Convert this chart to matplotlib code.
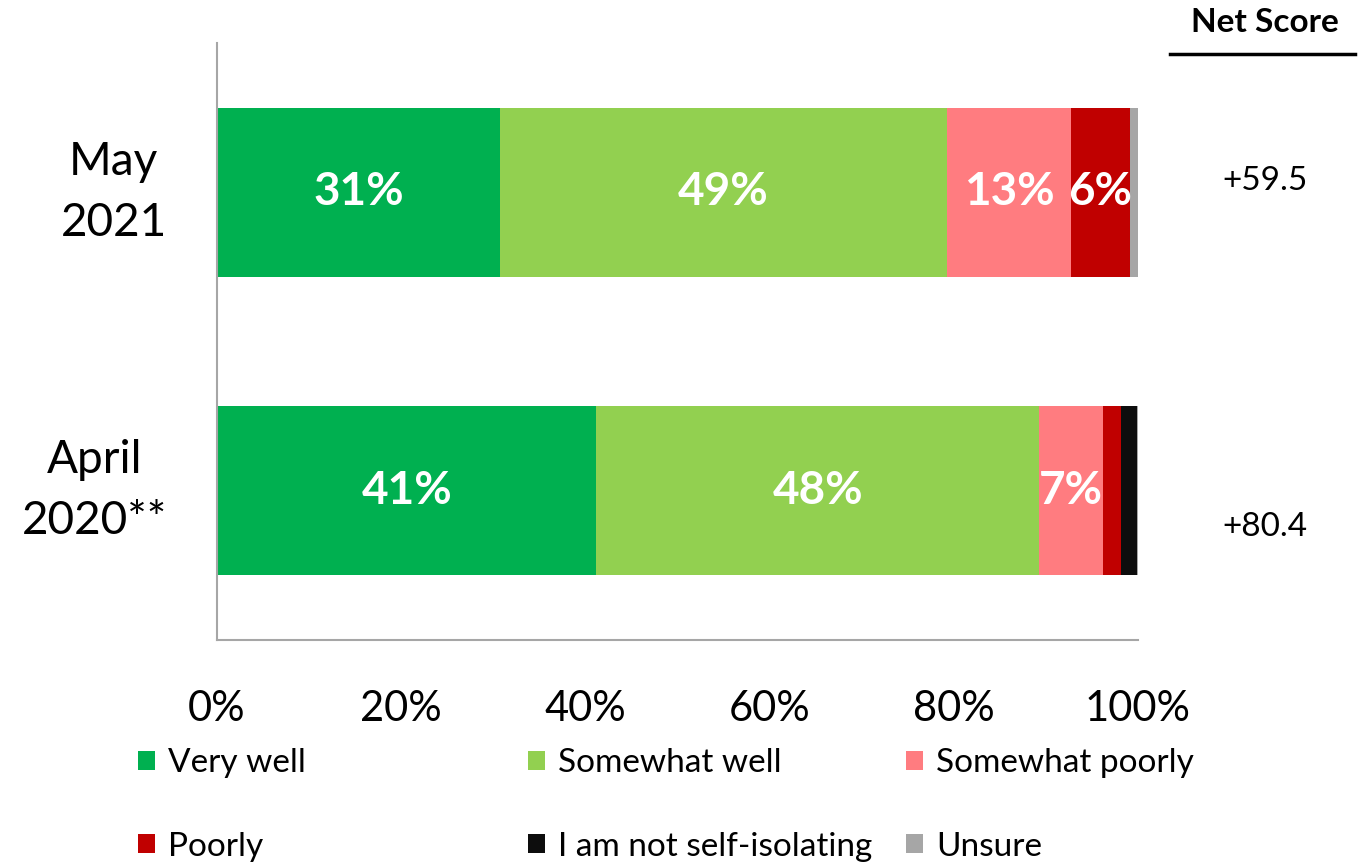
import numpy as np
import matplotlib
matplotlib.use('Agg')
import matplotlib.pyplot as plt
from matplotlib.lines import Line2D

plt.rcParams['font.family'] = ['Lato', 'DejaVu Sans']

# Data (percent of respondents)
periods = ['April\n2020**', 'May\n2021']
categories = ['Very well', 'Somewhat well', 'Somewhat poorly', 'Poorly',
              'I am not self-isolating', 'Unsure']
very_well = [41.2, 30.7]
somewhat_well = [48.1, 48.6]
somewhat_poorly = [6.9, 13.4]
poorly = [2.0, 6.4]
not_isolating = [1.7, 0.0]
unsure = [0.1, 0.9]
net_scores = ['+80.4', '+59.5']

COLORS = ['#00B050', '#92D050', '#FF7C80', '#C00000', '#0D0D0D', '#A6A6A6']

series = [very_well, somewhat_well, somewhat_poorly, poorly, not_isolating, unsure]

fig = plt.figure(figsize=(13.58, 8.65), dpi=100)
ax = fig.add_axes([217/1358, 1 - 640/865, 921/1358, 597/865])

y = np.arange(len(periods))
left = np.zeros(len(periods))
handles = []
for vals, color, name in zip(series, COLORS, categories):
    vals = np.array(vals)
    bars = ax.barh(y, vals, left=left, height=0.567, color=color, label=name)
    handles.append(bars)
    for yi, (l, v) in enumerate(zip(left, vals)):
        if v >= 5:
            ax.text(l + v / 2, yi, f'{v:.0f}%', ha='center', va='center',
                    color='white', fontsize=33, fontweight='bold')
    left += vals

ax.set_xlim(0, 100)
ax.set_ylim(-0.5, 1.5)
ax.set_xticks([0, 20, 40, 60, 80, 100])
ax.set_xticklabels([f'{t}%' for t in [0, 20, 40, 60, 80, 100]], fontsize=30)
ax.set_yticks(y)
ax.set_yticklabels(periods, fontsize=33, multialignment='center', linespacing=1.55)
for lbl in ax.get_yticklabels():
    lbl.set_va('center')
ax.tick_params(axis='both', length=0)
ax.tick_params(axis='x', pad=36)
ax.tick_params(axis='y', pad=36)
for s in ['top', 'right']:
    ax.spines[s].set_visible(False)
for s in ['left', 'bottom']:
    ax.spines[s].set_color('#A6A6A6')
    ax.spines[s].set_linewidth(1.5)

# Net score column
trans = ax.get_yaxis_transform()
net_offsets = [-0.123, 0.037]
for yi, (txt, off) in enumerate(zip(net_scores, net_offsets)):
    ax.text(1.138, yi + off, txt, transform=trans, ha='center', va='center',
            fontsize=24, clip_on=False)
fig.text(1265/1358, 1 - 23/865, 'Net Score', ha='center', va='center',
         fontsize=24, fontweight='bold')
fig.add_artist(Line2D([1170/1358, 1355/1358], [1 - 54/865, 1 - 54/865],
                      color='black', linewidth=2.5))

# Legend: three columns
cols = [(0, 3), (1, 4), (2, 5)]
col_x = [125, 515, 893]
for (a, b), cx in zip(cols, col_x):
    fig.legend([handles[a], handles[b]], [categories[a], categories[b]],
               loc='upper left', bbox_to_anchor=(cx/1358, 1 - 735/865),
               frameon=False, fontsize=24, handlelength=0.5, handleheight=0.5,
               handletextpad=0.4, labelspacing=1.6, borderaxespad=0)

fig.savefig('out.png', dpi=100)
